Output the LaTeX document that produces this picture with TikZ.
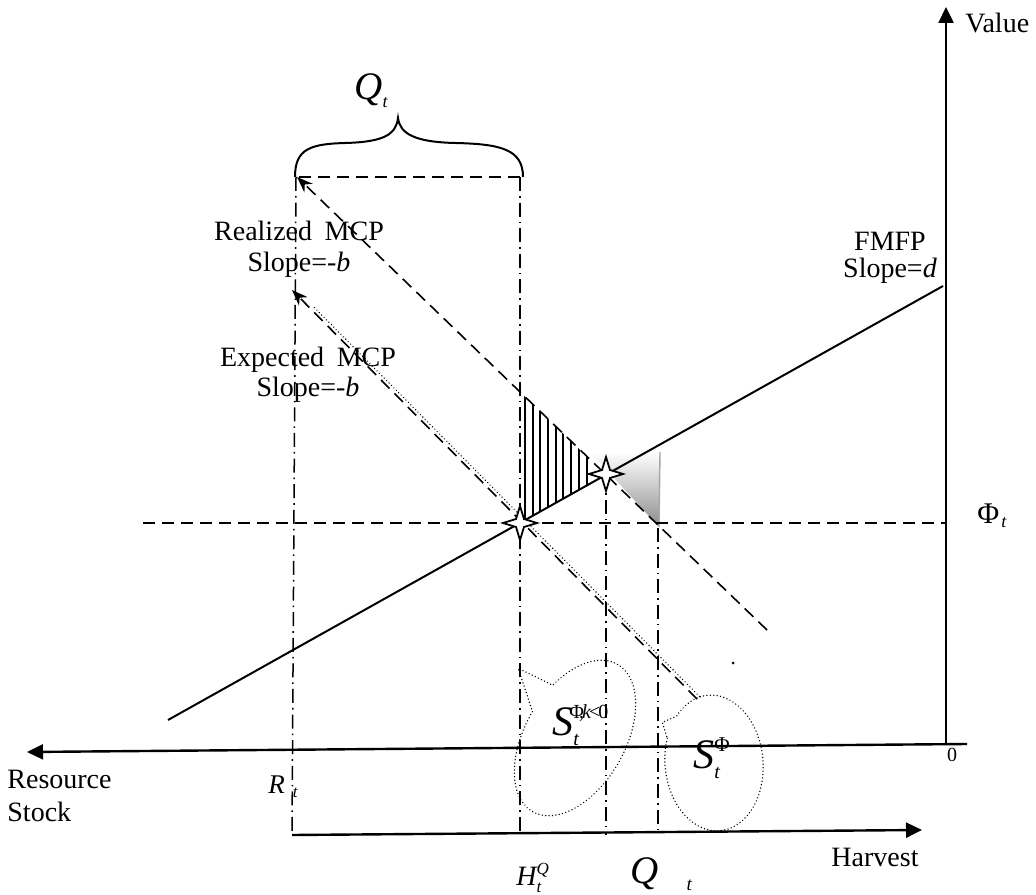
\documentclass[tikz,border=0pt]{standalone}
\usepackage{amsmath}
\usepackage{fontspec}
\setmainfont{Liberation Serif}
\usetikzlibrary{arrows.meta,shapes.geometric}

\newcommand{\smt}[2]{\text{\fontsize{#1}{#1}\selectfont #2}}

\begin{document}
\begin{tikzpicture}[x=0.5pt,y=0.5pt,
  ax/.style={line width=1.2pt,-{Triangle[length=8pt,width=7.5pt]}},
  dashl/.style={line width=0.8pt,dash pattern=on 6pt off 3.5pt},
  dashdotv/.style={line width=0.75pt,dash pattern=on 7pt off 2.5pt on 0.8pt off 2.5pt},
  dotl/.style={line width=0.75pt,dash pattern=on 0.01pt off 1.7pt,line cap=round},
  mcp/.style={dashl,-{Stealth[length=8pt,width=6pt]}},
  sparkle/.style={star,star points=4,star point ratio=3,draw,fill=white,line width=0.9pt,minimum size=17pt,inner sep=0pt},
  lab/.style={font=\fontsize{14}{15.5}\selectfont,inner sep=0pt},
  mlab/.style={inner sep=0pt,anchor=base west}]
\useasboundingbox (0,0) rectangle (1036,894);

% points of the chart
\coordinate (vBot) at (946,150);
\coordinate (vTop) at (946,887);
\coordinate (rsR) at (967,150);
\coordinate (rsL) at (27,142);
\coordinate (hvL) at (292,59);
\coordinate (hvR) at (922,64);
\coordinate (rTip) at (297,717);
\coordinate (rEnd) at (767,264);
\coordinate (qL) at (296,717);
\coordinate (qR) at (520,717);
\coordinate (eTip) at (292,604);
\coordinate (eEnd) at (697,195);
\coordinate (fL) at (168,174);
\coordinate (fR) at (943,608);
\coordinate (phL) at (143,371);
\coordinate (phR) at (946,371);
\coordinate (sE) at (520,371);
\coordinate (sR) at (606,420);
\coordinate (gB) at (658,366);

% shaded and hatched areas
\shade[top color=white,bottom color=black!45] (590,442) -- (660,442) -- (659,367) -- cycle;
\draw[black!35,line width=0.7pt] (660,442) -- (659,367);
\begin{scope}
\clip (519,371) -- (519,503) -- (606,419) -- cycle;
\draw[line width=0.9pt] (525,360) -- (525,510) (533,360) -- (533,510) (540,360) -- (540,510)
  (548,360) -- (548,510) (556,360) -- (556,510) (563,360) -- (563,510)
  (571,360) -- (571,510) (579,360) -- (579,510) (587,360) -- (587,510);
\end{scope}

% axes
\draw[ax] (vBot) -- (vTop);
\draw[ax] (rsR) -- (rsL);
\draw[ax] (hvL) -- (hvR);

% guide lines
\draw[dashl] (phL) -- (phR);
\draw[dashl] (qR) -- (rTip);
\draw[dashdotv] (qL) -- (hvL);
\draw[dashdotv] (qR) -- (qR |- hvL);
\draw[dashdotv] (sR) -- (sR |- hvL);
\draw[dashdotv] (gB) -- (gB |- hvL);

% FMFP and the two MCP lines
\draw[line width=1pt] (fL) -- (fR);
\draw[mcp] (rEnd) -- (rTip);
\draw[mcp] (eEnd) -- (eTip);
\draw[dotl] (699.5,197.5) -- (312.5,588.3);

% brace over Q_t
\draw[line width=1pt] (295,717) .. controls (295,745) and (310,750) .. (345,751)
  .. controls (385,752) and (396,760) .. (398,776)
  .. controls (400,760) and (415,752) .. (455,751)
  .. controls (500,750) and (523,745) .. (523,717);

% stars
\node[sparkle] (starE) at (sE) {};
\node[sparkle] (starR) at (sR) {};

% callouts
\begin{scope}[shift={(575,156)},rotate=60]
\draw[dotl] (89:85 and 50) arc[start angle=89,end angle=426,x radius=85,y radius=50] -- (32,84) -- cycle;
\end{scope}
\begin{scope}[shift={(714,131)},rotate=5]
\draw[dotl] (155:49 and 68) arc[start angle=155,end angle=493,x radius=49,y radius=68] -- (-48,45) -- cycle;
\end{scope}
\fill (733,231) circle (1.5);

% labels
\node[lab,anchor=west] (val) at (965,871) {Value};
\node[lab] (hvLab) at (875,37) {Harvest};
\node[lab,anchor=north west,align=left] (rsLab) at (7,124) {Resource\\[1pt]Stock};
\node[lab,anchor=north,align=center] (realLab) at (299,673) {Realized\hspace{0.45em}MCP\\Slope=-\textit{b}};
\node[lab,anchor=north,align=center] (expLab) at (308,547) {Expected\hspace{0.45em}MCP\\[-0.5pt]Slope=-\textit{b}};
\node[lab,anchor=north,align=center] (fmfpLab) at (890,662) {FMFP\\[-2pt]Slope=\textit{d}};
\node[inner sep=0pt,font=\fontsize{10}{12}\selectfont] (zero) at (952,139) {0};

\node[mlab,font=\fontsize{19.5}{22}\selectfont] (qTop) at (354,794) {$\textit{Q}_{\smt{9}{\textit{t}}}$};
\node[mlab,font=\fontsize{19.5}{22}\selectfont] (qBot) at (630,11) {$\textit{Q}_{\hspace{14pt}\smt{9.5}{\textit{t}}}$};
\node[mlab,font=\fontsize{14}{16}\selectfont] (hQ) at (516,9) {$\textit{H}_{\smt{8.5}{\textit{t}}}^{\smt{8.5}{\textit{Q}}}$};
\node[mlab,font=\fontsize{13.5}{16}\selectfont] (rT) at (268,101) {$\textit{R}_{\hspace{4pt}\smt{8.5}{\textit{t}}}$};
\node[mlab,font=\fontsize{15}{18}\selectfont] (phiT) at (977,371) {$\text{Φ}_{\hspace{1pt}\smt{9}{\textit{t}}}$};
\node[mlab,font=\fontsize{21}{25}\selectfont] (sK) at (552,159) {$\textit{S}_{\smt{10}{\textit{t}}}^{\smt{10}{\kern-2pt Φ\kern-2.5pt,\kern-1pt\textit{k}\kern-1pt<\kern-1pt0}}$};
\node[mlab,font=\fontsize{21}{25}\selectfont] (sPhi) at (693,126) {$\textit{S}_{\smt{10}{\textit{t}}}^{\smt{10.5}{Φ}}$};
\end{tikzpicture}
\end{document}
